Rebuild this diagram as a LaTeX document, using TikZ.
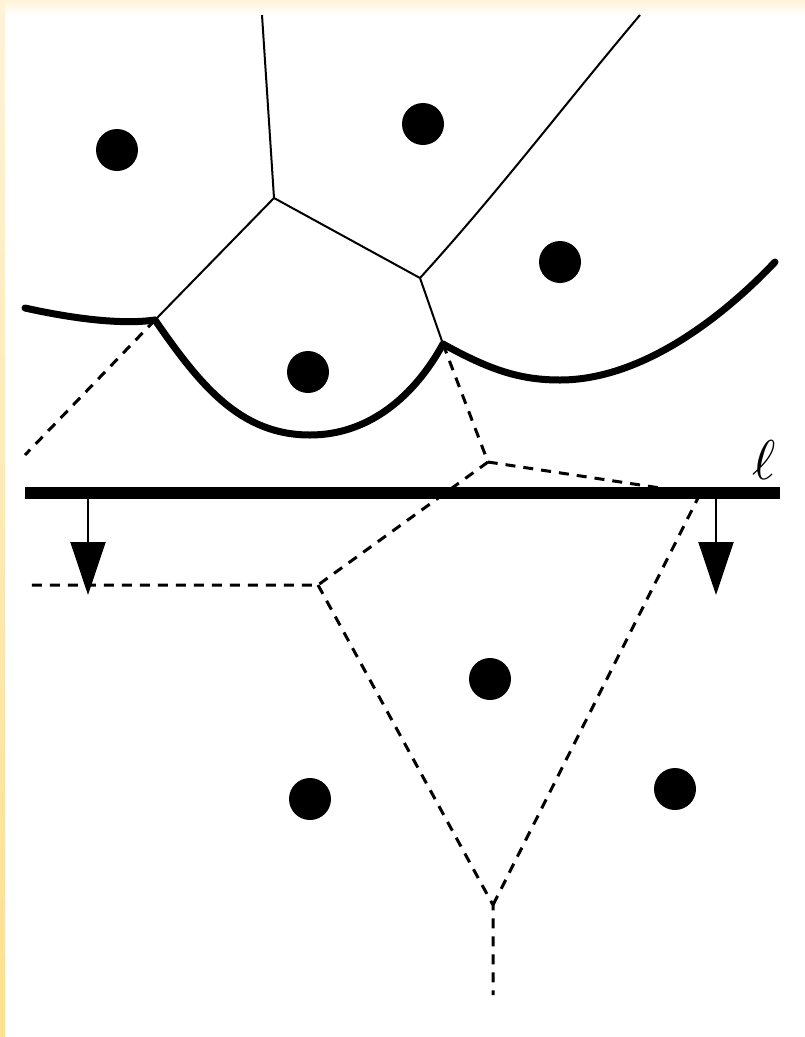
\documentclass[tikz,border=0pt]{standalone}
\usetikzlibrary{arrows.meta}
\definecolor{edgeY}{HTML}{FFE08C}
\definecolor{edgeC}{HTML}{FFF3D8}
\begin{document}
\begin{tikzpicture}[x=1pt,y=-1pt,
  site/.style={circle,fill=black,inner sep=0pt,minimum size=42pt},
  thin/.style={line width=2pt},
  beach/.style={line width=7pt,line cap=round},
  sweep/.style={line width=12pt},
  dashline/.style={line width=3pt,dash pattern=on 10pt off 8pt},
  downarrow/.style={line width=2pt,-{Triangle[length=53pt,width=35pt]}}]
\useasboundingbox (0,0) rectangle (805,1037);
\fill[white] (0,0) rectangle (805,1037);
\shade[top color=edgeC,bottom color=white] (0,0) rectangle (805,16);
\shade[top color=edgeC,bottom color=edgeY] (0,0) rectangle (5,1037);
% sites
\node[site] (s1) at (117,150) {};
\node[site] (s2) at (423,124) {};
\node[site] (s3) at (560,262) {};
\node[site] (s4) at (308,372) {};
\node[site] (s5) at (490,679) {};
\node[site] (s6) at (310,799) {};
\node[site] (s7) at (675,789) {};
% vertices
\coordinate (t1) at (262,15);
\coordinate (t2) at (640,15);
\coordinate (A) at (274,198);
\coordinate (B) at (420,278);
\coordinate (C) at (155,320);
\coordinate (D) at (443,344);
\coordinate (E) at (488,462);
\coordinate (F) at (318,585);
\coordinate (G) at (493,905);
\coordinate (H) at (700,494);
\coordinate (L1) at (25,455);
\coordinate (L2) at (25,585);
\coordinate (bot) at (493,995);
\coordinate (bl) at (25,308);
\coordinate (br) at (775,262);
\coordinate (w1) at (25,493);
\coordinate (w2) at (780,493);
% dashed edges
\draw[dashline] (C) -- (L1);
\draw[dashline] (D) -- (E) -- (H);
\draw[dashline] (E) -- (F) -- (L2);
\draw[dashline] (F) -- (G) -- (bot);
\draw[dashline] (H) -- (G);
% thin edges
\draw[thin] (t1) -- (A);
\draw[thin] (t2) .. controls (560,110) and (500,190) .. (B);
\draw[thin] (A) -- (B) -- (D);
\draw[thin] (A) -- (C);
% beach line
\draw[beach] (bl) .. controls (70,318) and (120,325) .. (C);
\draw[beach] (C) .. controls (200,385) and (240,435) .. (310,435)
  .. controls (370,435) and (415,395) .. (D);
\draw[beach] (D) .. controls (490,370) and (520,380) .. (560,380)
  .. controls (640,380) and (720,320) .. (br);
% sweep line
\draw[sweep] (w1) -- (w2);
\node[scale=5.6,inner sep=0pt] (ell) at (764,460) {$\ell$};
% arrows
\coordinate (a1) at (88,499);
\coordinate (a1e) at (88,595);
\coordinate (a2) at (716,499);
\coordinate (a2e) at (716,595);
\draw[downarrow] (a1) -- (a1e);
\draw[downarrow] (a2) -- (a2e);
\end{tikzpicture}
\end{document}
